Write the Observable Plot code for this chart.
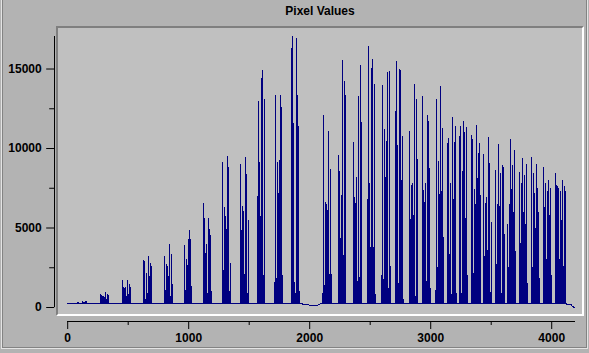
<!DOCTYPE html>
<html><head><meta charset="utf-8">
<script src="https://cdn.jsdelivr.net/npm/d3@7"></script>
<script src="https://cdn.jsdelivr.net/npm/@observablehq/plot@0.6"></script>
<style>
html,body{margin:0;padding:0;background:#b3b3b3;}
#win{position:relative;width:589px;height:353px;overflow:hidden;background:#b3b3b3;font-family:"Liberation Sans",Arial,sans-serif;}
#groove{position:absolute;left:2px;top:-10px;width:583px;height:356px;border:1px solid #838383;box-shadow:0 0 0 1px #e4e4e4;}
#title{position:absolute;left:57px;width:526px;top:4px;text-align:center;font:bold 12px "Liberation Sans",Arial,sans-serif;line-height:14px;color:#000;}
#box{position:absolute;left:56px;top:26px;width:524px;height:286px;background:#c0c0c0;border-style:solid;border-width:2px;border-color:#7f7f7f #ffffff #ffffff #7f7f7f;}
#chart{position:absolute;left:0;top:0;}
</style></head>
<body>
<div id="win">
  <div id="groove"></div>
  <div id="title">Pixel Values</div>
  <div id="box"></div>
  <div id="chart"></div>
</div>
<script>
// Spike columns (channel position, peak pixel value)
const spikeX = [
  81, 89, 122, 131, 139, 147, 155,
  271, 279, 288, 296, 304, 312, 321, 329, 337,
  453, 461, 469, 478, 486, 494, 502, 511, 519,
  626, 635, 643, 651, 660, 668, 676, 684, 693,
  800, 808, 816, 825, 833, 841, 850, 858, 866,
  965, 973, 982, 990, 998, 1007, 1015, 1023,
  1122, 1131, 1139, 1147, 1155, 1164, 1172, 1180, 1188,
  1279, 1288, 1296, 1304, 1312, 1321, 1329, 1337, 1345,
  1428, 1436, 1445, 1453, 1461, 1469, 1478, 1486, 1494,
  1568, 1577, 1585, 1593, 1601, 1610, 1618, 1626,
  1709, 1717, 1725, 1734, 1742, 1750, 1758, 1767, 1775,
  1849, 1858, 1866, 1874, 1882, 1891, 1899, 1907, 1915,
  2106, 2114, 2122, 2130, 2139, 2147, 2155, 2163, 2172, 2180,
  2238, 2246, 2254, 2263, 2271, 2279, 2287, 2296,
  2362, 2370, 2378, 2386, 2395, 2403, 2411, 2420, 2428,
  2477, 2486, 2494, 2502, 2510, 2519, 2527, 2535, 2543,
  2593, 2601, 2610, 2618, 2626, 2634, 2643, 2651, 2659, 2667,
  2709, 2717, 2725, 2733, 2742, 2750, 2758, 2767, 2775,
  2824, 2833, 2841, 2849, 2857, 2866, 2874, 2882, 2890,
  2932, 2940, 2948, 2957, 2965, 2973, 2981, 2990, 2998,
  3039, 3047, 3056, 3064, 3072, 3080, 3089, 3097, 3105,
  3138, 3147, 3155, 3163, 3171, 3180, 3188, 3196, 3204, 3213,
  3237, 3246, 3254, 3262, 3270, 3279, 3287, 3295, 3304,
  3337, 3345, 3353, 3361, 3370, 3378, 3386, 3394, 3403, 3411,
  3436, 3444, 3452, 3461, 3469, 3477, 3485, 3494, 3502,
  3535, 3543, 3551, 3560, 3568, 3576, 3584, 3593, 3601, 3609,
  3634, 3642, 3651, 3659, 3667, 3675, 3684, 3692, 3700,
  3733, 3741, 3750, 3758, 3766, 3774, 3783, 3791, 3799,
  3832, 3841, 3849, 3857, 3865, 3874, 3882, 3890, 3898,
  3931, 3940, 3948, 3956, 3964, 3973, 3981, 3989, 3998,
  4031, 4039, 4047, 4055, 4064, 4072, 4080, 4088, 4097, 4105, 4113
];
const spikeY = [
  300, 300, 360, 330, 300, 370, 350,
  818, 755, 670, 700, 600, 944, 500, 800, 755,
  1700, 1280, 1175, 1280, 700, 1700, 800, 1447, 1280,
  2956, 2893, 500, 2120, 900, 3208, 1950, 2768, 2580,
  3208, 1090, 2705, 2580, 1950, 3963, 700, 3334, 1447,
  3880, 1070, 3000, 2663, 4300, 4844, 4257, 1320,
  6560, 5600, 3400, 3963, 900, 5600, 4907, 4509, 1000,
  9122, 2350, 6270, 5725, 4928, 9500, 8828, 1000, 2789,
  8996, 4865, 6333, 6018, 2076, 9437, 8388, 900, 5472,
  6982, 12957, 9120, 5724, 14385, 14907, 2000, 13083,
  1590, 13335, 1800, 9120, 7170, 9246, 13335, 12580, 2000,
  16272, 17046, 11555, 1600, 900, 16900, 13335, 11385, 1000,
  880, 12058, 1400, 6606, 6480, 6123, 11093, 2076, 8682, 2076,
  9583, 8577, 4362, 7067, 15518, 3292, 14197, 13358,
  10380, 6900, 6543, 8178, 1615, 13253, 1866, 15203, 11617,
  6794, 16398, 7800, 3795, 15035, 15600, 3775, 14029, 800,
  2034, 13945, 1782, 11198, 8178, 10422, 14784, 1195, 14868, 2600,
  12330, 15476, 10212, 1510, 14973, 14910, 7990, 10737, 500,
  11093, 5557, 7696, 7800, 5808, 14029, 700, 13085, 9310,
  13274, 7360, 6606, 7800, 1657, 12079, 11722, 8745, 1200,
  1070, 13106, 2495, 9164, 7109, 13903, 7277, 11261, 4404,
  10296, 10632, 3334, 7780, 800, 11932, 6815, 10380, 11366, 900,
  10758, 11386, 880, 8556, 11680, 11009, 5600, 11302, 2034,
  10800, 10570, 2139, 7423, 6500, 11428, 8115, 9688, 10317, 7067,
  9625, 3187, 6543, 6900, 3607, 10695, 9080, 944, 5347,
  8618, 2705, 6480, 10254, 6354, 8409, 900, 8954, 8786, 4600,
  5200, 2500, 6500, 10590, 7400, 8933, 6000, 9900, 3500,
  8514, 4000, 7800, 9394, 6000, 8300, 5200, 9000, 1500,
  9415, 2500, 8409, 7200, 5000, 9000, 7500, 6000, 1800,
  8828, 6300, 7800, 3000, 7300, 8000, 5800, 7500, 2000,
  8409, 7700, 7600, 7500, 3000, 7300, 5500, 7990, 2600, 7600, 7297
];
// Baseline trace between the spikes
const baseX = [0, 1930, 1960, 1990, 2040, 2070, 2090, 4122, 4125, 4163, 4166, 4178, 4181, 4188];
const baseY = [230, 230, 200, 160, 130, 160, 230, 230, 190, 190, 90, 90, 10, 10];
const BASE = 230;
const xTicks = [0, 1000, 2000, 3000, 4000];
const xMinor = [500, 1500, 2500, 3500];
const yTicks = [0, 5000, 10000, 15000];
const yMinor = [2500, 7500, 12500];
const X_MAX = 4195;
const Y_MAX = 17046;
const NAVY = "#000080";

const spikes = spikeX.map((x, i) => ({x, y: spikeY[i]}));
const base = baseX.map((x, i) => ({x, y: baseY[i]}));
const plain = d => String(d);

const chart = Plot.plot({
  width: 589, height: 353,
  marginLeft: 67.2, marginRight: 14.2, marginTop: 36, marginBottom: 46,
  x: {domain: [0, X_MAX]},
  y: {domain: [0, Y_MAX]},
  style: {background: "transparent", color: "black", fontFamily: '"Liberation Sans", Arial, sans-serif', fontSize: "12px", fontWeight: "bold", overflow: "visible"},
  marks: [
    Plot.line(base, {x: "x", y: "y", stroke: NAVY, strokeWidth: 1, shapeRendering: "crispEdges"}),
    Plot.ruleX(spikes, {x: "x", y1: () => BASE, y2: "y", stroke: NAVY, strokeWidth: 1, shapeRendering: "crispEdges"}),
    // y axis (offset left of the plot box)
    Plot.ruleX([0], {y1: () => 0, y2: () => Y_MAX, dx: -13, stroke: "black", shapeRendering: "crispEdges"}),
    Plot.axisY(yTicks, {tickSize: 8, tickPadding: 5, dx: -13, label: null, tickFormat: plain, stroke: "black", fill: "black"}),
    Plot.axisY(yMinor, {tickSize: 5, dx: -13, label: null, tickFormat: () => "", stroke: "black"}),
    // x axis (offset below the plot box)
    Plot.ruleY([0], {x1: () => 0, x2: () => X_MAX, dy: 14, stroke: "black", shapeRendering: "crispEdges"}),
    Plot.axisX(xTicks, {tickSize: 8, tickPadding: 4, dy: 14, label: null, tickFormat: plain, stroke: "black", fill: "black"}),
    Plot.axisX(xMinor, {tickSize: 4, dy: 14, label: null, tickFormat: () => "", stroke: "black"})
  ]
});
document.getElementById("chart").appendChild(chart);
</script>
</body></html>
